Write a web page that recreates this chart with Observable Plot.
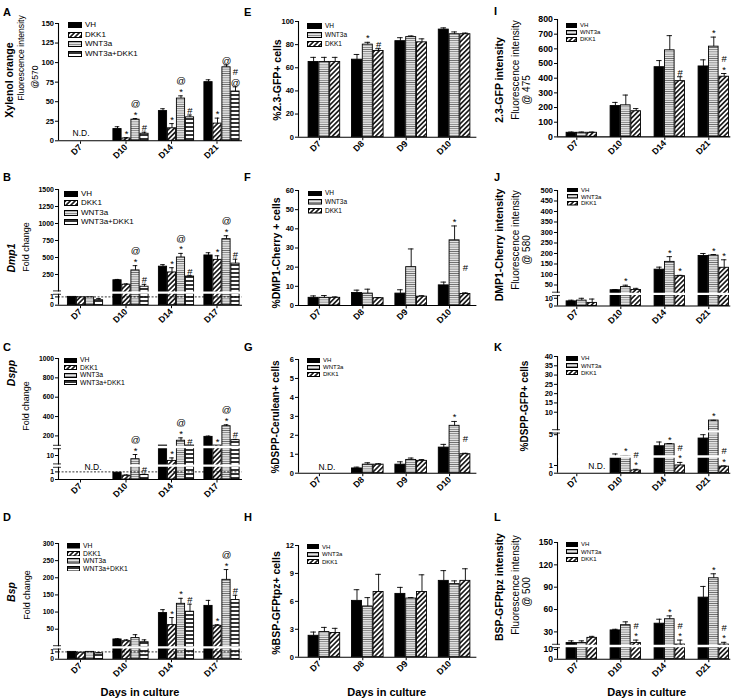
<!DOCTYPE html>
<html><head><meta charset="utf-8">
<script src="https://cdn.jsdelivr.net/npm/d3@7"></script>
<script src="https://cdn.jsdelivr.net/npm/@observablehq/plot@0.6"></script>
<style>
body{margin:0;background:#fff;}
#root{position:relative;width:740px;height:700px;overflow:hidden;background:#fff;font-family:"Liberation Sans",Arial,sans-serif;color:#000;}
.rl{position:absolute;white-space:nowrap;line-height:1;transform:translate(-50%,-50%) rotate(-90deg);}
.tx{position:absolute;white-space:nowrap;line-height:1;}
</style></head>
<body>
<svg width="0" height="0" style="position:absolute">
<defs>
<pattern id="pDiag" patternUnits="userSpaceOnUse" width="3.4" height="3.4" patternTransform="rotate(45)">
<rect width="3.4" height="3.4" fill="white"/><line x1="1.7" y1="0" x2="1.7" y2="3.4" stroke="black" stroke-width="1.5"/>
</pattern>
<pattern id="pGray" patternUnits="userSpaceOnUse" width="3" height="2.2">
<rect width="3" height="2.2" fill="#f2f2f2"/><line x1="0" y1="1.1" x2="3" y2="1.1" stroke="#6e6e6e" stroke-width="0.9"/>
</pattern>
<pattern id="pBars" patternUnits="userSpaceOnUse" width="3" height="4">
<rect width="3" height="4" fill="white"/><line x1="0" y1="2" x2="3" y2="2" stroke="black" stroke-width="1.6"/>
</pattern>
</defs>
</svg>
<div id="root"></div>
<script>
// ---------------- DATA ----------------
const SERIES4 = ["VH", "DKK1", "WNT3a", "WNT3a+DKK1"];
const SERIES3 = ["VH", "WNT3a", "DKK1"];

// A: Xylenol orange
const A_days = ["D7", "D10", "D14", "D21"];
const A_ticks = [0, 25, 50, 75, 100, 125, 150];
const A_VH = [null, 15, 38, 75],    A_VH_err = [null, 3, 3, 3];
const A_DKK1 = [null, 3, 16, 22],   A_DKK1_err = [null, 1, 6, 7];
const A_WNT3a = [null, 27, 54, 94], A_WNT3a_err = [null, 1.5, 3.5, 3];
const A_COMBO = [null, 9, 30, 63],  A_COMBO_err = [null, 2, 3, 6];
const A_sig = [["", "", "", ""], ["", "*", "*", "*"], ["", "@\n*", "@\n*", "@"], ["", "#", "#", "#\n@"]];

// B: Dmp1
const B_days = ["D7", "D10", "D14", "D17"];
const B_ticks = [0, 1, 250, 500, 750, 1000, 1250, 1500];
const B_VH = [1, 165, 365, 530],      B_VH_err = [0, 12, 30, 40];
const B_DKK1 = [0.95, 100, 280, 465], B_DKK1_err = [0, 12, 70, 60];
const B_WNT3a = [0.95, 310, 500, 770],B_WNT3a_err = [0, 70, 60, 50];
const B_COMBO = [0.6, 70, 220, 410],  B_COMBO_err = [0.2, 35, 12, 65];
const B_sig = [["", "", "", ""], ["", "", "*", "*"], ["", "@\n*", "@\n*", "@\n*"], ["", "#", "#", "#"]];

// C: Dspp
const C_days = ["D7", "D10", "D14", "D17"];
const C_ticks = [0, 1, 10, 200, 400, 600, 800, 1000];
const C_VH = [null, 0.9, 100, 190],   C_VH_err = [null, 0, 0, 8];
const C_DKK1 = [null, 0.5, 4.6, 100], C_DKK1_err = [null, 0.1, 3, 0];
const C_WNT3a = [null, 6.3, 150, 300],C_WNT3a_err = [null, 4.7, 30, 15];
const C_COMBO = [null, 0.6, 100, 156],C_COMBO_err = [null, 0.1, 0, 8];
const C_sig = [["", "", "", ""], ["", "", "*", "*"], ["", "@\n*", "@\n*", "@\n*"], ["", "#", "#", "#"]];

// D: Bsp
const D_days = ["D7", "D10", "D14", "D17"];
const D_ticks = [0, 1, 50, 100, 150, 200, 250, 300];
const D_VH = [1, 20, 97, 118],      D_VH_err = [0, 2, 10, 16];
const D_DKK1 = [0.9, 15, 62, 60],   D_DKK1_err = [0, 4, 22, 3];
const D_WNT3a = [1, 24, 124, 194],  D_WNT3a_err = [0, 10, 16, 30];
const D_COMBO = [0.8, 12, 101, 135],D_COMBO_err = [0.1, 7, 22, 14];
const D_sig = [["", "", "", ""], ["", "", "*", "*"], ["", "", "*", "@\n*"], ["", "", "#", "#"]];

// E: %2.3-GFP+ cells
const E_days = ["D7", "D8", "D9", "D10"];
const E_ticks = [0, 20, 40, 60, 80, 100];
const E_VH = [65, 67, 83, 93],        E_VH_err = [4, 4.5, 3, 1.5];
const E_WNT3a = [65, 80, 86.5, 89],   E_WNT3a_err = [4, 2, 1, 2];
const E_DKK1 = [65, 74.5, 82, 89],    E_DKK1_err = [4, 2, 3, 1];
const E_sig = [["", "", "", ""], ["", "*", "", ""], ["", "#", "", ""]];

// F: %DMP1-Cherry + cells
const F_days = ["D7", "D8", "D9", "D10"];
const F_ticks = [0, 10, 20, 30, 40, 50, 60];
const F_VH = [4, 6.5, 6.2, 10.5],     F_VH_err = [1, 1.5, 2, 1.7];
const F_WNT3a = [4, 6.2, 20, 34],     F_WNT3a_err = [1.2, 2.3, 9.5, 7.5];
const F_DKK1 = [4, 3.8, 4.6, 6],      F_DKK1_err = [0.5, 0.3, 0.5, 0.6];
const F_sig = [["", "", "", ""], ["", "", "", "*"], ["", "", "", "#\n\u00a0\n\u00a0"]];

// G: %DSPP-Cerulean+ cells
const G_days = ["D7", "D8", "D9", "D10"];
const G_ticks = [0, 1, 2, 3, 4, 5, 6];
const G_VH = [null, 0.25, 0.45, 1.35],  G_VH_err = [null, 0.07, 0.15, 0.17];
const G_WNT3a = [null, 0.45, 0.7, 2.5], G_WNT3a_err = [null, 0.1, 0.1, 0.23];
const G_DKK1 = [null, 0.45, 0.65, 1.0], G_DKK1_err = [null, 0.05, 0.07, 0.05];
const G_sig = [["", "", "", ""], ["", "", "", "*"], ["", "", "", "#\n\u00a0"]];

// H: %BSP-GFPtpz+ cells
const H_days = ["D7", "D8", "D9", "D10"];
const H_ticks = [0, 3, 6, 9, 12];
const H_VH = [2.3, 6.05, 6.8, 8.2],   H_VH_err = [0.4, 1.2, 0.7, 1.1];
const H_WNT3a = [2.7, 5.45, 6.3, 7.85], H_WNT3a_err = [0.5, 0.95, 0.1, 0.35];
const H_DKK1 = [2.6, 7, 7, 8.2],      H_DKK1_err = [0.5, 1.9, 1.85, 1.3];
const H_sig = [["", "", "", ""], ["", "", "", ""], ["", "", "", ""]];

// I: 2.3-GFP intensity
const I_days = ["D7", "D10", "D14", "D21"];
const I_ticks = [0, 100, 200, 300, 400, 500, 600, 700, 800];
const I_VH = [28, 210, 475, 480],     I_VH_err = [5, 25, 45, 45];
const I_WNT3a = [28, 215, 590, 615],  I_WNT3a_err = [5, 70, 100, 65];
const I_DKK1 = [28, 175, 380, 410],   I_DKK1_err = [5, 18, 30, 22];
const I_sig = [["", "", "", ""], ["", "", "", "*"], ["", "", "#", "#\n*"]];

// J: DMP1-Cherry intensity
const J_days = ["D7", "D10", "D14", "D21"];
const J_ticks = [0, 10, 50, 100, 150, 200, 250, 300, 350, 400, 450, 500];
const J_VH = [6, 25, 123, 188],       J_VH_err = [1.5, 3, 12, 12];
const J_WNT3a = [7, 40, 160, 190],    J_WNT3a_err = [3, 9, 25, 5];
const J_DKK1 = [4, 26, 92, 132],      J_DKK1_err = [5, 8, 4, 38];
const J_sig = [["", "", "", ""], ["", "*", "*", "*"], ["", "", "*", "*"]];

// K: %DSPP-GFP+ cells
const K_days = ["D7", "D10", "D14", "D21"];
const K_ticks = [0, 1, 5, 10, 15, 20, 25, 30, 35, 40];
const K_VH = [null, 2.0, 3.5, 4.5],   K_VH_err = [null, 0.5, 0.55, 0.5];
const K_WNT3a = [null, 2.2, 3.75, 5.5], K_WNT3a_err = [null, 0.1, 0.1, 0.15];
const K_DKK1 = [null, 0.35, 1.0, 0.85], K_DKK1_err = [null, 0.15, 0.4, 0.1];
const K_sig = [["", "", "", ""], ["", "*", "*", "*"], ["", "#\n*", "#\n*", "#\n*"]];

// L: BSP-GFPtpz intensity
const L_days = ["D7", "D10", "D14", "D21"];
const L_ticks = [0, 10, 30, 60, 90, 120, 150];
const L_VH = [15, 32, 41, 76],        L_VH_err = [3, 1.5, 6, 15];
const L_WNT3a = [15, 39, 47, 102],    L_WNT3a_err = [3, 4.5, 4.5, 6];
const L_DKK1 = [22, 15, 13, 13],      L_DKK1_err = [2, 4, 6, 3];
const L_sig = [["", "", "", ""], ["", "", "*", "*"], ["", "#\n*", "#\n*", "#\n*"]];

// ---------------- STYLE / LAYOUT ----------------
const PATTERN = {"VH": "black", "DKK1": "url(#pDiag)", "WNT3a": "url(#pGray)", "WNT3a+DKK1": "url(#pBars)"};
const FONT = "'Liberation Sans', Arial, Helvetica, sans-serif";
const COLS = [
  {axisX: 58, rightX: 242, c0: 85, step: 45.5, pitch: 9, bw: 8.2},
  {axisX: 298.3, rightX: 476.7, c0: 324.2, step: 43.4, pitch: 10.8, bw: 10},
  {axisX: 556.7, rightX: 730, c0: 581, step: 44, pitch: 10.4, bw: 9.6}
];
const lin = (vmax, dmax) => [{v0: 0, v1: vmax, d0: 0, d1: dmax}];

const panels = [
  {col: 0, axisY: 140, topY: 22.7, days: A_days, series: SERIES4, ticks: A_ticks,
   values: [A_VH, A_DKK1, A_WNT3a, A_COMBO], errors: [A_VH_err, A_DKK1_err, A_WNT3a_err, A_COMBO_err], sig: A_sig,
   pieces: lin(150, 117.3), breaks: [], dashed: false, nd: [-4.5, -8], tfs: 7.5,
   legend: {x: 68, y: 25, dy: 9.5, w: 14, h: 6, fs: 8}},
  {col: 0, axisY: 305, topY: 189.3, days: B_days, series: SERIES4, ticks: B_ticks,
   values: [B_VH, B_DKK1, B_WNT3a, B_COMBO], errors: [B_VH_err, B_DKK1_err, B_WNT3a_err, B_COMBO_err], sig: B_sig,
   pieces: [{v0: 0, v1: 1.4, d0: 0, d1: 11.62}, {v0: 1.4, v1: 1500, d0: 13.8, d1: 115.7}], breaks: [[12.6, true]], dashed: true, nd: null, tfs: 7,
   legend: {x: 64, y: 194, dy: 9.4, w: 14, h: 6, fs: 8}},
  {col: 0, axisY: 479.3, topY: 358.3, days: C_days, series: SERIES4, ticks: C_ticks,
   values: [C_VH, C_DKK1, C_WNT3a, C_COMBO], errors: [C_VH_err, C_DKK1_err, C_WNT3a_err, C_COMBO_err], sig: C_sig,
   pieces: [{v0: 0, v1: 1.6, d0: 0, d1: 12.2}, {v0: 1.6, v1: 18, d0: 15.6, d1: 32}, {v0: 90, v1: 1000, d0: 32.96, d1: 121}],
   breaks: [[13.9, true], [32.5, true]], dashed: true, nd: [7.5, -12.6], tfs: 6.8,
   legend: {x: 64, y: 360, dy: 7.6, w: 13, h: 5, fs: 6.8}},
  {col: 0, axisY: 659, topY: 543.3, days: D_days, series: SERIES4, ticks: D_ticks,
   values: [D_VH, D_DKK1, D_WNT3a, D_COMBO], errors: [D_VH_err, D_DKK1_err, D_WNT3a_err, D_COMBO_err], sig: D_sig,
   pieces: [{v0: 0, v1: 1.4, d0: 0, d1: 10.22}, {v0: 1.4, v1: 300, d0: 13.34, d1: 115.7}], breaks: [[11.8, true]], dashed: true, nd: null, tfs: 6.8,
   legend: {x: 67, y: 546, dy: 7.5, w: 13, h: 5.5, fs: 6.8}},
  {col: 1, axisY: 136.7, topY: 21, days: E_days, series: SERIES3, ticks: E_ticks,
   values: [E_VH, E_WNT3a, E_DKK1], errors: [E_VH_err, E_WNT3a_err, E_DKK1_err], sig: E_sig,
   pieces: lin(100, 115.7), breaks: [], dashed: false, nd: null, tfs: 7.5,
   legend: {x: 307, y: 25.7, dy: 9.3, w: 15, h: 6, fs: 6.5}},
  {col: 1, axisY: 305, topY: 190, days: F_days, series: SERIES3, ticks: F_ticks,
   values: [F_VH, F_WNT3a, F_DKK1], errors: [F_VH_err, F_WNT3a_err, F_DKK1_err], sig: F_sig,
   pieces: lin(60, 115), breaks: [], dashed: false, nd: null, tfs: 7.5,
   legend: {x: 308, y: 193.3, dy: 8.8, w: 14, h: 5.5, fs: 6.5}},
  {col: 1, axisY: 472.7, topY: 359, days: G_days, series: SERIES3, ticks: G_ticks,
   values: [G_VH, G_WNT3a, G_DKK1], errors: [G_VH_err, G_WNT3a_err, G_DKK1_err], sig: G_sig,
   pieces: lin(6, 113.7), breaks: [], dashed: false, nd: [2.5, -5.7], tfs: 7.5,
   legend: {x: 307, y: 360, dy: 7.2, w: 13, h: 5, fs: 6}},
  {col: 1, axisY: 656.7, topY: 545, days: H_days, series: SERIES3, ticks: H_ticks,
   values: [H_VH, H_WNT3a, H_DKK1], errors: [H_VH_err, H_WNT3a_err, H_DKK1_err], sig: H_sig,
   pieces: lin(12, 111.7), breaks: [], dashed: false, nd: null, tfs: 7.5,
   legend: {x: 307, y: 546.7, dy: 7.5, w: 12, h: 5, fs: 6}},
  {col: 2, axisY: 136.7, topY: 19.3, days: I_days, series: SERIES3, ticks: I_ticks,
   values: [I_VH, I_WNT3a, I_DKK1], errors: [I_VH_err, I_WNT3a_err, I_DKK1_err], sig: I_sig,
   pieces: lin(800, 117.4), breaks: [], dashed: false, nd: null, tfs: 8.8,
   legend: {x: 566, y: 25, dy: 7.2, w: 11, h: 5, fs: 6}},
  {col: 2, axisY: 305, topY: 189.5, days: J_days, series: SERIES3, ticks: J_ticks,
   values: [J_VH, J_WNT3a, J_DKK1], errors: [J_VH_err, J_WNT3a_err, J_DKK1_err], sig: J_sig,
   pieces: [{v0: 0, v1: 14, d0: 0, d1: 10.78}, {v0: 14, v1: 500, d0: 13.44, d1: 115.5}], breaks: [[12.1, true]], dashed: false, nd: null, tfs: 7.5,
   legend: {x: 567, y: 190, dy: 6.7, w: 11, h: 4.5, fs: 6}},
  {col: 2, axisY: 472.7, topY: 356, days: K_days, series: SERIES3, ticks: K_ticks,
   values: [K_VH, K_WNT3a, K_DKK1], errors: [K_VH_err, K_WNT3a_err, K_DKK1_err], sig: K_sig,
   pieces: [{v0: 0, v1: 5.3, d0: 0, d1: 40.8}, {v0: 5.3, v1: 40, d0: 52.24, d1: 116.7}],
   breaks: [[16.7, false], [41.8, true]], dashed: false, nd: [15, -6.7], tfs: 7.5,
   legend: {x: 566, y: 358.3, dy: 7.2, w: 12, h: 5, fs: 6}},
  {col: 2, axisY: 659, topY: 542.3, days: L_days, series: SERIES3, ticks: L_ticks,
   values: [L_VH, L_WNT3a, L_DKK1], errors: [L_VH_err, L_WNT3a_err, L_DKK1_err], sig: L_sig,
   pieces: [{v0: 0, v1: 12.5, d0: 0, d1: 12.1}, {v0: 12.5, v1: 150, d0: 14.26, d1: 116.7}], breaks: [[13.2, true]], dashed: false, nd: null, tfs: 8.6,
   legend: {x: 566, y: 544.3, dy: 7.5, w: 12, h: 5, fs: 6}}
];

const labels = [
  // [text, cx, cy, size, weight, italic]
  ["Xylenol orange", 8.5, 80, 10.5, "bold", false],
  ["Fluorescence intensity", 20.5, 58, 8.6, "normal", false],
  ["@570", 34.5, 77, 8.6, "normal", false],
  ["Dmp1", 11, 258, 10.5, "bold", true],
  ["Fold change", 25.5, 247, 9, "normal", false],
  ["Dspp", 11, 373, 10.5, "bold", true],
  ["Fold change", 25.5, 406, 9, "normal", false],
  ["Bsp", 11, 592, 10.5, "bold", true],
  ["Fold change", 27, 595, 9, "normal", false],
  ["%2.3-GFP+ cells", 276.7, 80, 10.5, "bold", false],
  ["%DMP1-Cherry + cells", 276, 252.5, 10.5, "bold", false],
  ["%DSPP-Cerulean+ cells", 276, 416.7, 10, "bold", false],
  ["%BSP-GFPtpz+ cells", 276, 603, 10.5, "bold", false],
  ["2.3-GFP intensity", 499, 80, 10.5, "bold", false],
  ["Fluorescence intensity", 515.5, 70, 10, "normal", false],
  ["@ 475", 527, 90, 10, "normal", false],
  ["DMP1-Cherry intensity", 499, 245, 10.5, "bold", false],
  ["Fluorescence intensity", 515.5, 240, 10, "normal", false],
  ["@ 580", 527, 250, 10, "normal", false],
  ["%DSPP-GFP+ cells", 525, 406, 10, "bold", false],
  ["BSP-GFPtpz intensity", 499, 587, 10.5, "bold", false],
  ["Fluorescence intensity", 515.5, 585, 10, "normal", false],
  ["@ 500", 527, 592, 10, "normal", false]
];
const letters = [["A", 3, 8], ["B", 3, 173], ["C", 3, 343], ["D", 3, 513],
                 ["E", 244, 8], ["F", 244, 173], ["G", 244, 343], ["H", 244, 513],
                 ["I", 494, 7], ["J", 494, 173], ["K", 494, 343], ["L", 494, 513]];
const xTitles = [["Days in culture", 140, 692], ["Days in culture", 386.7, 692], ["Days in culture", 646.7, 692]];

// ---------------- DRAW ----------------
const root = document.getElementById("root");

function makeMap(pieces) {
  return v => {
    const p = pieces.find(q => v <= q.v1) || pieces[pieces.length - 1];
    return p.d0 + (v - p.v0) * (p.d1 - p.d0) / (p.v1 - p.v0);
  };
}

function drawPanel(p) {
  const col = COLS[p.col];
  const n = p.series.length;
  const f = makeMap(p.pieces);
  const xDom = [(col.axisX - col.c0) / col.step, (col.rightX - col.c0) / col.step];
  const pitch = col.pitch / col.step, bw = col.bw / col.step, px = 1 / col.step;
  const rows = [];
  p.days.forEach((day, i) => p.series.forEach((s, j) => {
    const v = p.values[j][i];
    if (v == null) return;
    rows.push({i, j, s, v, e: p.errors[j][i] || 0, sig: p.sig[j][i]});
  }));
  const cx = r => r.i + (r.j - (n - 1) / 2) * pitch;
  const D = p.axisY - p.topY;
  const mT = 10, mB = 34, mL = 40, mR = 8;
  const W = col.rightX - col.axisX;
  const tickPos = p.ticks.map(f);
  const tickLab = new Map(tickPos.map((d, k) => [d, String(p.ticks[k])]));
  const errRows = rows.filter(r => r.e > 0);
  const marks = [
    Plot.rectY(rows, {x1: r => cx(r) - bw / 2, x2: r => cx(r) + bw / 2, y1: () => 0, y2: r => f(r.v),
      fill: r => PATTERN[r.s], stroke: "black", strokeWidth: 0.9}),
    Plot.ruleX(errRows, {x: cx, y1: r => f(r.v), y2: r => f(r.v + r.e), stroke: "black", strokeWidth: 0.9}),
    Plot.ruleY(errRows, {x1: r => cx(r) - bw * 0.28, x2: r => cx(r) + bw * 0.28, y: r => f(r.v + r.e), stroke: "black", strokeWidth: 0.9})
  ];
  if (p.dashed) marks.push(Plot.ruleY([1], {y: v => f(v), stroke: "black", strokeWidth: 0.8, strokeDasharray: "2,1.6"}));
  marks.push(Plot.ruleX([xDom[0]], {stroke: "black", strokeWidth: 1.1}));
  marks.push(Plot.ruleY([0], {stroke: "black", strokeWidth: 1.1}));
  p.breaks.forEach(([b, onAxis]) => {
    marks.push(Plot.ruleY([b], {x1: () => xDom[0] + (onAxis ? -1.5 : 1) * px, x2: () => xDom[1], stroke: "white", strokeWidth: 2.4}));
    if (onAxis) marks.push(Plot.ruleY([b - 1.7, b + 1.7], {x1: () => xDom[0] - 5 * px, x2: () => xDom[0] + 3 * px, stroke: "black", strokeWidth: 0.8}));
  });
  marks.push(Plot.axisY({ticks: tickPos, tickFormat: d => tickLab.get(d), tickSize: 3, tickPadding: 1.5, label: null, strokeWidth: 1, fontSize: p.tfs, fill: "black"}));
  marks.push(Plot.axisX({ticks: [0, 1, 2, 3], tickFormat: i => p.days[i], tickRotate: -45, tickSize: 2.5, tickPadding: 1.5, label: null, fontSize: 8.8, fill: "black", dx: -5, dy: 1}));
  marks.push(Plot.text(rows.filter(r => r.sig), {x: cx, y: r => f(r.v + r.e), text: r => r.sig, dy: -1, lineAnchor: "bottom",
    fontSize: 9.5, fontWeight: "normal", lineHeight: 1.1, fill: "black"}));
  if (p.nd) marks.push(Plot.text(["N.D."], {x: () => 0, y: () => 0, text: d => d, dx: p.nd[0], dy: p.nd[1], fontSize: 8.5, fontWeight: "normal", fill: "black"}));

  const svg = Plot.plot({
    width: W + mL + mR, height: D + mT + mB,
    marginLeft: mL, marginRight: mR, marginTop: mT, marginBottom: mB,
    x: {domain: xDom, axis: null},
    y: {domain: [0, D], axis: null},
    color: {type: "identity"},
    style: {fontFamily: FONT, fontSize: "7.5px", fontWeight: "bold", background: "transparent", overflow: "visible", color: "black"},
    marks
  });
  svg.style.position = "absolute";
  svg.style.left = (col.axisX - mL) + "px";
  svg.style.top = (p.topY - mT) + "px";
  svg.style.maxWidth = "none";
  root.appendChild(svg);

  // legend
  const L = p.legend;
  p.series.forEach((s, k) => {
    const cy = L.y + k * L.dy;
    const sw = document.createElement("div");
    sw.className = "tx";
    sw.style.left = L.x + "px";
    sw.style.top = (cy - L.h / 2) + "px";
    sw.innerHTML = `<svg width="${L.w}" height="${L.h}" style="display:block"><rect x="0.5" y="0.5" width="${L.w - 1}" height="${L.h - 1}" fill="${PATTERN[s]}" stroke="black" stroke-width="1"/></svg>`;
    root.appendChild(sw);
    const t = document.createElement("div");
    t.className = "tx";
    t.textContent = s;
    t.style.left = (L.x + L.w + 3) + "px";
    t.style.top = cy + "px";
    t.style.fontSize = L.fs + "px";
    t.style.transform = "translateY(-50%)";
    root.appendChild(t);
  });
}

panels.forEach(drawPanel);

labels.forEach(([text, x, y, fs, fw, it]) => {
  const d = document.createElement("div");
  d.className = "rl";
  d.textContent = text;
  d.style.left = x + "px"; d.style.top = y + "px";
  d.style.fontSize = fs + "px"; d.style.fontWeight = fw;
  if (it) d.style.fontStyle = "italic";
  root.appendChild(d);
});
letters.forEach(([t, x, y]) => {
  const d = document.createElement("div");
  d.className = "tx"; d.textContent = t;
  d.style.left = x + "px"; d.style.top = (y - 1.5) + "px";
  d.style.fontSize = "11px"; d.style.fontWeight = "bold";
  root.appendChild(d);
});
xTitles.forEach(([t, x, y]) => {
  const d = document.createElement("div");
  d.className = "tx"; d.textContent = t;
  d.style.left = x + "px"; d.style.top = y + "px";
  d.style.transform = "translate(-50%,-50%)";
  d.style.fontSize = "11px"; d.style.fontWeight = "bold";
  root.appendChild(d);
});
</script>
</body></html>
